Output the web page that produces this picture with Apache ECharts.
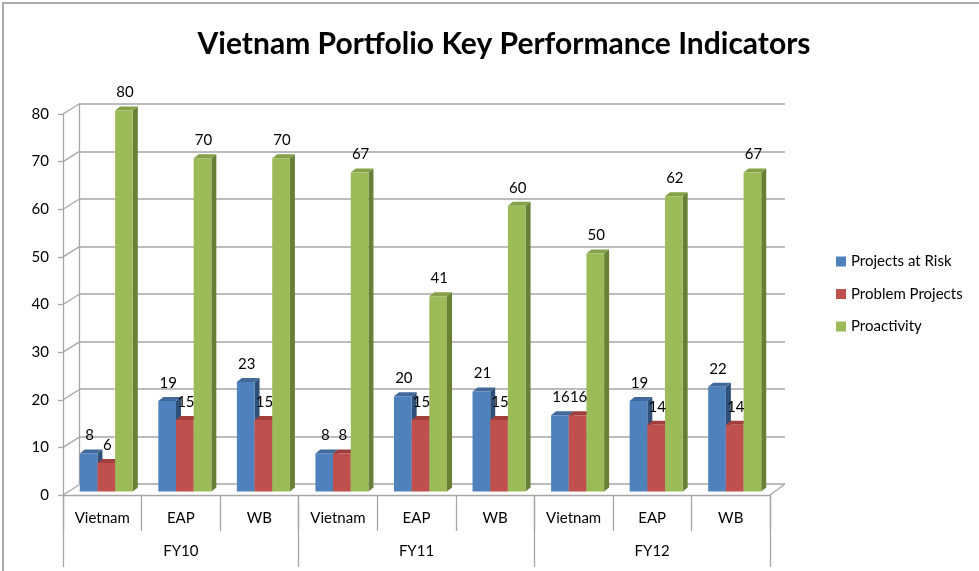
<!DOCTYPE html>
<html>
<head>
<meta charset="utf-8">
<script src="https://cdn.jsdelivr.net/npm/echarts@6/dist/echarts.min.js"></script>
<style>
html,body{margin:0;padding:0;background:#fff;}
#chart{width:979px;height:571px;}
</style>
</head>
<body>
<div id="chart"></div>
<script>
const categories = ['Vietnam','EAP','WB','Vietnam','EAP','WB','Vietnam','EAP','WB'];
const groups = ['FY10','FY11','FY12'];
const seriesNames = ['Projects at Risk','Problem Projects','Proactivity'];
const projectsAtRisk = [8,19,23,8,20,21,16,19,22];
const problemProjects = [6,15,15,8,15,15,16,14,14];
const proactivity = [80,70,70,67,41,60,50,62,67];
const yTicks = [0,10,20,30,40,50,60,70,80];

const FONT = 'Lato, "Open Sans", sans-serif';
const FS = 15;
const palette = [
  {front:'#4F81BD', side:'#2F5078', top:'#41699A'},
  {front:'#C0504D', side:'#7E302E', top:'#A13F3C'},
  {front:'#9BBB59', side:'#687F36', top:'#84A147'}
];
const DX = 5, DY = 4, LIFT = 3.5;
const allValues = [projectsAtRisk, problemProjects, proactivity];

function barGeom(api, k, i, v){
  const base = api.coord([i, 0]);
  const topP = api.coord([i, v]);
  const bw = api.size([1, 0])[0];
  const w = bw * 0.225;
  const cx = base[0] + (k - 1) * w + 4;
  return {x: cx - w/2, w: w, cx: cx, yb: base[1] - LIFT, yt: topP[1] - LIFT};
}

function makeBarRender(k){
  const c = palette[k];
  return function(params, api){
    const g = barGeom(api, k, api.value(0), api.value(1));
    const x = g.x, w = g.w, yb = g.yb, yt = g.yt;
    return {
      type: 'group',
      children: [
        {type:'polygon', shape:{points:[[x+w,yt],[x+w+DX,yt-DY],[x+w+DX,yb-DY],[x+w,yb]]}, style:{fill:c.side}},
        {type:'polygon', shape:{points:[[x,yt],[x+DX,yt-DY],[x+w+DX,yt-DY],[x+w,yt]]}, style:{fill:c.top}},
        {type:'rect', shape:{x:x, y:yt, width:w, height:yb-yt}, style:{fill:c.front}}
      ]
    };
  };
}

const barSeries = seriesNames.map((name, k) => ({
  type: 'custom',
  name: name,
  xAxisIndex: 0, yAxisIndex: 0,
  itemStyle: {color: palette[k].front},
  renderItem: makeBarRender(k),
  encode: {x: 0, y: 1},
  data: allValues[k].map((v, i) => [i, v]),
  z: 3
}));

const labelSeries = {
  type: 'custom',
  name: 'labels',
  xAxisIndex: 0, yAxisIndex: 0,
  z: 5,
  silent: true,
  encode: {x: 0, y: [1,2,3]},
  data: categories.map((c, i) => [i, projectsAtRisk[i], problemProjects[i], proactivity[i]]),
  renderItem: function(params, api){
    const i = api.value(0);
    const kids = [];
    for (let k = 0; k < 3; k++){
      const v = api.value(k + 1);
      const g = barGeom(api, k, i, v);
      kids.push({type:'text', style:{text:String(v), x:g.cx + 1, y:g.yt - 18, align:'center', verticalAlign:'middle', font:FS + 'px ' + FONT, fill:'#000'}});
    }
    return {type:'group', children:kids};
  }
};

const diagSeries = {
  type: 'custom',
  name: 'diag',
  xAxisIndex: 0, yAxisIndex: 0,
  silent: true,
  z: 1,
  encode: {x: 0, y: 1},
  data: yTicks.map(v => [0, v]),
  renderItem: function(params, api){
    const y = api.coord([0, api.value(1)])[1];
    const cs = params.coordSys;
    const kids = [{type:'line', shape:{x1:cs.x, y1:y, x2:cs.x+16, y2:y-10}, style:{stroke:'#a6a6a6', lineWidth:1.3}}];
    if (api.value(1) === 0) {
      kids.push({type:'line', shape:{x1:cs.x+cs.width, y1:y, x2:cs.x+cs.width+15, y2:y-11}, style:{stroke:'#a6a6a6', lineWidth:1.3}});
    }
    return {type:'group', children:kids};
  }
};

const axisGray = '#a6a6a6';

const option = {
  animation: false,
  backgroundColor: '#fff',
  textStyle: {fontFamily: FONT},
  title: {
    text: 'Vietnam Portfolio Key Performance Indicators',
    left: 499, top: 24, textAlign: 'center',
    textStyle: {fontFamily: FONT, fontSize: 30, fontWeight: 'bold', color: '#000'}
  },
  legend: {
    orient: 'vertical',
    left: 831, top: 249,
    itemWidth: 10, itemHeight: 10, itemGap: 17.5,
    icon: 'rect',
    data: seriesNames,
    textStyle: {fontFamily: FONT, fontSize: FS, color: '#000'}
  },
  graphic: [
    {type:'polyline', silent:true, shape:{points:[[3,571],[3,3],[979,3]]}, style:{stroke:'#aaaaaa', lineWidth:2, fill:null}}
  ],
  grid: [
    {left: 63, right: 209, top: 114, bottom: 76},
    {left: 79, right: 194, top: 104, bottom: 87}
  ],
  xAxis: [
    {type:'category', gridIndex:0, data: categories, position:'bottom',
     axisLine:{show:true, lineStyle:{color:axisGray, width:1.3}},
     axisTick:{show:true, interval:0, length:36, lineStyle:{color:axisGray, width:1.3}},
     axisLabel:{interval:0, margin:16, fontSize:FS, color:'#000', fontFamily:FONT}},
    {type:'category', gridIndex:0, data: groups, position:'bottom',
     axisLine:{show:false},
     axisTick:{show:true, interval:0, length:72, lineStyle:{color:axisGray, width:1.3}},
     axisLabel:{interval:0, margin:49, fontSize:FS, color:'#000', fontFamily:FONT}},
    {type:'category', gridIndex:1, data: categories, show:false}
  ],
  yAxis: [
    {type:'value', gridIndex:0, min:0, max:80, interval:10,
     axisLine:{show:true, lineStyle:{color:axisGray, width:1.3}},
     axisTick:{show:true, length:5, lineStyle:{color:axisGray, width:1.3}},
     axisLabel:{fontSize:FS, color:'#000', margin:14, fontFamily:FONT},
     splitLine:{show:false}},
    {type:'value', gridIndex:1, min:0, max:80, interval:10,
     axisLine:{show:true, lineStyle:{color:axisGray, width:1.3}},
     axisTick:{show:false}, axisLabel:{show:false},
     splitLine:{show:true, lineStyle:{color:axisGray, width:1.6}}}
  ],
  series: [diagSeries].concat(barSeries).concat([labelSeries])
};

const chart = echarts.init(document.getElementById('chart'), null, {renderer:'canvas'});
chart.setOption(option);
</script>
</body>
</html>
